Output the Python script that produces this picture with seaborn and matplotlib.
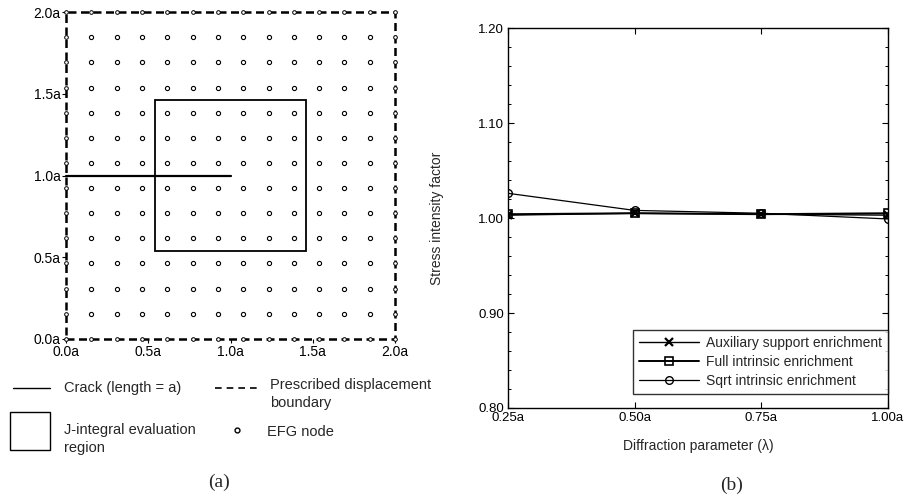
import numpy as np
import pandas as pd
import matplotlib
matplotlib.use("Agg")
import matplotlib.pyplot as plt
import seaborn as sns
from matplotlib.lines import Line2D
from matplotlib.patches import Rectangle

# ---------------- Panel (a) data ----------------
node_pos = [0.0, 0.154, 0.308, 0.462, 0.615, 0.769, 0.923, 1.077,
            1.231, 1.385, 1.538, 1.692, 1.846, 2.0]
domain_x = [0.0, 2.0, 2.0, 0.0, 0.0]
domain_y = [0.0, 0.0, 2.0, 2.0, 0.0]
crack_x = [0.0, 1.0]
crack_y = [1.0, 1.0]
jregion = [0.54, 1.46]
a_ticks = [0.0, 0.5, 1.0, 1.5, 2.0]
a_ticklabels = ["0.0a", "0.5a", "1.0a", "1.5a", "2.0a"]

# ---------------- Panel (b) data ----------------
lam = [0.25, 0.50, 0.75, 1.00]
lam_labels = ["0.25a", "0.50a", "0.75a", "1.00a"]
aux = [1.003, 1.005, 1.004, 1.003]
full = [1.004, 1.005, 1.004, 1.005]
sqrt_int = [1.026, 1.008, 1.005, 0.999]
y_ticks = [0.80, 0.90, 1.00, 1.10, 1.20]
y_ticklabels = ["0.80", "0.90", "1.00", "1.10", "1.20"]

sns.set_style("white")
plt.rcParams["font.family"] = ["Liberation Sans", "DejaVu Sans"]

fig = plt.figure(figsize=(9.07, 5.0), dpi=100)

# ================= Panel (a) =================
axA = fig.add_axes([0.0728, 0.322, 0.3627, 0.654])
X, Y = np.meshgrid(node_pos, node_pos)
X = X.ravel(); Y = Y.ravel()
nodes = pd.DataFrame({"x": X, "y": Y})
edge = (nodes.x == 0) | (nodes.x == 2) | (nodes.y == 0) | (nodes.y == 2)
interior = nodes[~edge]
border = nodes[edge]

axA.plot(domain_x, domain_y, color="black", lw=1.8,
         ls=(0, (3.2, 1.8)), clip_on=False, zorder=3)
sns.scatterplot(data=interior, x="x", y="y", marker="o", s=9,
                facecolor="white", edgecolor="black", linewidth=0.8,
                ax=axA, legend=False, clip_on=False, zorder=4)
sns.scatterplot(data=border, x="x", y="y", marker="o", s=7,
                facecolor="white", edgecolor="black", linewidth=0.7,
                ax=axA, legend=False, clip_on=False, zorder=4)
axA.plot(crack_x, crack_y, color="black", lw=1.6, zorder=3, clip_on=False)
axA.add_patch(Rectangle((jregion[0], jregion[0]), jregion[1] - jregion[0],
                        jregion[1] - jregion[0], fill=False,
                        edgecolor="black", lw=1.3, zorder=3))
axA.set_xlim(0, 2)
axA.set_ylim(0, 2)
for s in axA.spines.values():
    s.set_visible(False)
axA.set_xticks(a_ticks)
axA.set_xticklabels(a_ticklabels)
axA.set_yticks(a_ticks)
axA.set_yticklabels(a_ticklabels)
axA.tick_params(direction="out", length=3, width=0.8, pad=1,
                labelsize=10, bottom=True, left=True, colors="black")
axA.set_xlabel("")
axA.set_ylabel("")

# legend for panel (a), drawn in figure pixels
W, H = 907.0, 500.0
def fx(px):
    return px / W
def fy(py):
    return 1 - py / H

fig.add_artist(Line2D([fx(13), fx(50)], [fy(388), fy(388)], color="black", lw=1.0))
fig.text(fx(64), fy(388), "Crack (length = a)", fontsize=10.5, va="center", ha="left")
fig.add_artist(Line2D([fx(215), fx(257)], [fy(388), fy(388)], color="black",
                      lw=1.2, ls=(0, (4, 3))))
fig.text(fx(270), fy(394), "Prescribed displacement\nboundary", fontsize=10.5,
         va="center", ha="left", linespacing=1.3)
fig.add_artist(Rectangle((fx(10), fy(450)), fx(50) - fx(10), fy(412) - fy(450),
                         fill=False, edgecolor="black", lw=1.0,
                         transform=fig.transFigure))
fig.text(fx(64), fy(439), "J-integral evaluation\nregion", fontsize=10.5,
         va="center", ha="left", linespacing=1.3)
fig.add_artist(Line2D([fx(237)], [fy(430)], marker="o", markersize=3.5,
                      markerfacecolor="white", markeredgecolor="black",
                      markeredgewidth=1.0, ls="none"))
fig.text(fx(267), fy(432), "EFG node", fontsize=10.5, va="center", ha="left")
fig.text(fx(219), fy(482), "(a)", fontsize=14, va="center", ha="center",
         family=["Liberation Serif", "DejaVu Serif"])

# ================= Panel (b) =================
axB = fig.add_axes([0.560, 0.184, 0.419, 0.760])
sns.lineplot(x=lam, y=aux, marker="x", color="black", lw=1.0,
             markersize=6, markeredgewidth=1.6, markeredgecolor="black",
             ax=axB, label="Auxiliary support enrichment")
sns.lineplot(x=lam, y=full, marker="s", color="black", lw=1.4,
             markersize=6, markerfacecolor="none", markeredgecolor="black",
             markeredgewidth=1.2, ax=axB, label="Full intrinsic enrichment")
sns.lineplot(x=lam, y=sqrt_int, marker="o", color="black", lw=0.9,
             markersize=5.5, markerfacecolor="none", markeredgecolor="black",
             markeredgewidth=1.0, ax=axB, label="Sqrt intrinsic enrichment")
axB.set_xlim(0.25, 1.00)
axB.set_ylim(0.80, 1.20)
axB.set_xticks(lam)
axB.set_xticklabels(lam_labels)
axB.set_yticks(y_ticks)
axB.set_yticklabels(y_ticklabels)
axB.set_yticks(np.arange(0.80, 1.2001, 0.02), minor=True)
for s in axB.spines.values():
    s.set_visible(True)
    s.set_color("black")
    s.set_linewidth(1.0)
axB.tick_params(which="both", direction="in", top=True, right=True,
                bottom=True, left=True, colors="black")
axB.tick_params(which="major", length=4, width=0.8, labelsize=9.5, pad=3)
axB.tick_params(which="minor", length=2.5, width=0.7)
axB.set_xlabel("Diffraction parameter (\u03bb)", fontsize=10)
axB.set_ylabel("Stress intensity factor", fontsize=10)
axB.xaxis.set_label_coords(0.5, -0.082)
axB.yaxis.set_label_coords(-0.168, 0.5)
leg = axB.legend(loc="lower right", bbox_to_anchor=(1.0, 0.037),
                 borderaxespad=0, frameon=True, fancybox=False,
                 fontsize=10, handlelength=4.3, handletextpad=0.5,
                 labelspacing=0.35, borderpad=0.45)
leg.get_frame().set_edgecolor("black")
leg.get_frame().set_linewidth(1.0)
fig.text(fx(732), fy(485), "(b)", fontsize=14, va="center", ha="center",
         family=["Liberation Serif", "DejaVu Serif"])

fig.savefig("out.png", dpi=100, facecolor="white")
